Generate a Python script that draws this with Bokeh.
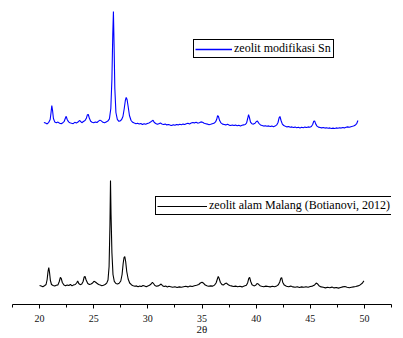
from bokeh.plotting import figure
from bokeh.models import Range1d, FixedTicker, Legend, LegendItem
from bokeh.embed import file_html
from bokeh.resources import INLINE

# ---- data (2-theta in degrees, intensity in arbitrary units, offset traces) ----
black_2theta = [20.00, 20.15, 20.30, 20.45, 20.60, 20.70, 20.78, 20.85, 20.92, 21.00,
                21.10, 21.25, 21.40, 21.55, 21.70, 21.82, 21.92, 22.00, 22.10, 22.25,
                22.40, 22.55, 22.70, 22.85, 23.00, 23.15, 23.30, 23.42, 23.52, 23.62,
                23.75, 23.90, 24.02, 24.12, 24.20, 24.30, 24.45, 24.60, 24.75, 24.90,
                25.02, 25.15, 25.30, 25.45, 25.60, 25.75, 25.90, 26.05, 26.20, 26.32,
                26.42, 26.50, 26.55, 26.60, 26.68, 26.78, 26.90, 27.05, 27.20, 27.35,
                27.50, 27.62, 27.72, 27.80, 27.87, 27.95, 28.05, 28.18, 28.32, 28.50,
                28.65, 28.80, 28.95, 29.10, 29.25, 29.40, 29.55, 29.70, 29.85, 30.00,
                30.15, 30.30, 30.42, 30.52, 30.65, 30.80, 30.95, 31.10, 31.22, 31.35,
                31.50, 31.65, 31.80, 31.95, 32.10, 32.30, 32.50, 32.70, 32.90, 33.10,
                33.30, 33.50, 33.70, 33.90, 34.10, 34.30, 34.50, 34.70, 34.85, 35.00,
                35.15, 35.30, 35.45, 35.60, 35.80, 36.00, 36.15, 36.30, 36.42, 36.50,
                36.58, 36.70, 36.85, 37.00, 37.12, 37.25, 37.40, 37.55, 37.70, 37.90,
                38.10, 38.30, 38.50, 38.70, 38.90, 39.10, 39.22, 39.32, 39.40, 39.50,
                39.62, 39.80, 39.95, 40.08, 40.20, 40.35, 40.50, 40.70, 40.90, 41.10,
                41.30, 41.50, 41.70, 41.90, 42.05, 42.18, 42.28, 42.36, 42.46, 42.60,
                42.80, 43.00, 43.20, 43.40, 43.60, 43.80, 44.00, 44.20, 44.40, 44.60,
                44.80, 45.00, 45.20, 45.40, 45.55, 45.65, 45.80, 46.00, 46.20, 46.40,
                46.60, 46.80, 47.00, 47.20, 47.40, 47.60, 47.80, 48.00, 48.20, 48.40,
                48.60, 48.80, 49.00, 49.20, 49.40, 49.60, 49.80, 49.95]
black_intensity = [190, 185, 178, 188, 200, 250, 330, 370, 320, 240,
                   200, 190, 184, 192, 196, 230, 270, 262, 220, 195,
                   188, 196, 190, 200, 186, 196, 200, 215, 235, 210,
                   198, 205, 230, 275, 280, 245, 210, 200, 206, 215,
                   232, 225, 212, 200, 194, 188, 192, 200, 214, 245,
                   380, 800, 1240, 900, 520, 300, 232, 210, 205, 212,
                   235, 300, 410, 470, 480, 430, 330, 255, 215, 196,
                   188, 182, 186, 178, 184, 180, 190, 184, 178, 186,
                   192, 205, 222, 210, 190, 182, 186, 194, 205, 188,
                   180, 184, 176, 182, 178, 172, 178, 170, 176, 172,
                   178, 182, 176, 184, 180, 188, 192, 200, 215, 222,
                   212, 195, 188, 182, 186, 184, 194, 215, 255, 280,
                   262, 220, 198, 196, 208, 214, 200, 190, 186, 180,
                   184, 178, 182, 176, 184, 192, 218, 262, 272, 230,
                   198, 186, 192, 210, 204, 188, 182, 178, 184, 180,
                   176, 182, 178, 186, 198, 225, 262, 268, 220, 194,
                   182, 178, 184, 176, 172, 178, 170, 176, 172, 178,
                   172, 180, 184, 196, 214, 208, 188, 176, 172, 166,
                   172, 168, 174, 166, 170, 164, 170, 176, 180, 172,
                   168, 172, 176, 180, 186, 196, 212, 236]

blue_2theta = [20.40, 20.55, 20.70, 20.85, 20.98, 21.06, 21.13, 21.20, 21.28, 21.40,
               21.55, 21.70, 21.85, 22.00, 22.15, 22.28, 22.38, 22.46, 22.55, 22.68,
               22.80, 22.95, 23.10, 23.25, 23.40, 23.55, 23.68, 23.78, 23.90, 24.05,
               24.20, 24.32, 24.42, 24.50, 24.60, 24.72, 24.85, 25.00, 25.15, 25.30,
               25.45, 25.58, 25.70, 25.85, 26.00, 26.15, 26.30, 26.45, 26.58, 26.68,
               26.76, 26.82, 26.88, 26.95, 27.05, 27.18, 27.32, 27.45, 27.58, 27.70,
               27.82, 27.92, 28.00, 28.08, 28.18, 28.30, 28.45, 28.60, 28.75, 28.90,
               29.05, 29.20, 29.35, 29.50, 29.65, 29.80, 29.95, 30.10, 30.25, 30.38,
               30.48, 30.58, 30.72, 30.88, 31.02, 31.16, 31.30, 31.45, 31.60, 31.75,
               31.90, 32.05, 32.20, 32.35, 32.50, 32.65, 32.80, 32.95, 33.10, 33.25,
               33.40, 33.55, 33.70, 33.85, 34.00, 34.15, 34.30, 34.45, 34.60, 34.75,
               34.90, 35.05, 35.20, 35.35, 35.50, 35.65, 35.80, 35.95, 36.10, 36.25,
               36.36, 36.44, 36.52, 36.62, 36.75, 36.90, 37.05, 37.20, 37.35, 37.50,
               37.65, 37.80, 37.95, 38.10, 38.25, 38.40, 38.55, 38.70, 38.85, 39.00,
               39.12, 39.22, 39.30, 39.38, 39.48, 39.60, 39.75, 39.90, 40.02, 40.12,
               40.25, 40.40, 40.55, 40.70, 40.85, 41.00, 41.15, 41.30, 41.45, 41.60,
               41.75, 41.90, 42.02, 42.12, 42.20, 42.30, 42.42, 42.55, 42.70, 42.85,
               43.00, 43.15, 43.30, 43.45, 43.60, 43.75, 43.90, 44.05, 44.20, 44.35,
               44.50, 44.65, 44.80, 44.95, 45.10, 45.22, 45.32, 45.40, 45.50, 45.62,
               45.75, 45.90, 46.05, 46.20, 46.35, 46.50, 46.65, 46.80, 46.95, 47.10,
               47.25, 47.40, 47.55, 47.70, 47.85, 48.00, 48.15, 48.30, 48.45, 48.60,
               48.75, 48.90, 49.05, 49.20, 49.30, 49.40]
blue_intensity = [1820, 1814, 1806, 1822, 1850, 1920, 1990, 1940, 1860, 1826,
                  1818, 1824, 1812, 1808, 1818, 1832, 1862, 1882, 1850, 1826,
                  1818, 1812, 1808, 1822, 1816, 1824, 1840, 1832, 1818, 1830,
                  1840, 1862, 1898, 1900, 1862, 1832, 1822, 1818, 1826, 1820,
                  1834, 1844, 1836, 1822, 1818, 1826, 1834, 1856, 1960, 2250,
                  2700, 2930, 2600, 2160, 1920, 1852, 1832, 1836, 1850, 1880,
                  1960, 2040, 2070, 2050, 1980, 1890, 1840, 1822, 1814, 1808,
                  1812, 1804, 1810, 1800, 1808, 1802, 1810, 1816, 1824, 1836,
                  1842, 1822, 1810, 1802, 1808, 1814, 1806, 1800, 1804, 1796,
                  1800, 1794, 1790, 1798, 1792, 1800, 1796, 1802, 1798, 1804,
                  1800, 1808, 1812, 1806, 1814, 1820, 1816, 1822, 1814, 1818,
                  1826, 1822, 1812, 1808, 1804, 1798, 1802, 1808, 1812, 1826,
                  1852, 1888, 1880, 1842, 1816, 1804, 1800, 1796, 1802, 1794,
                  1790, 1796, 1790, 1794, 1788, 1792, 1786, 1792, 1796, 1800,
                  1816, 1860, 1898, 1870, 1824, 1808, 1804, 1812, 1830, 1834,
                  1812, 1796, 1790, 1784, 1788, 1782, 1786, 1780, 1784, 1778,
                  1784, 1796, 1820, 1866, 1880, 1840, 1804, 1790, 1782, 1776,
                  1780, 1772, 1776, 1770, 1774, 1768, 1772, 1766, 1772, 1768,
                  1774, 1770, 1776, 1772, 1780, 1800, 1832, 1836, 1806, 1784,
                  1774, 1770, 1766, 1770, 1764, 1768, 1762, 1766, 1760, 1764,
                  1760, 1766, 1762, 1768, 1764, 1770, 1766, 1772, 1776, 1772,
                  1778, 1782, 1788, 1798, 1812, 1840]

major_ticks = [20, 25, 30, 35, 40, 45, 50]
minor_ticks = [17.5, 22.5, 27.5, 32.5, 37.5, 42.5, 47.5, 52.5]
blue_label = "zeolit modifikasi Sn"
black_label = "zeolit alam Malang (Botianovi, 2012)"
x_label = "2θ"

BLUE = "#0000ff"
BLACK = "#000000"
SERIF = "Liberation Serif"

p = figure(width=403, height=338, output_backend="svg", toolbar_location=None,
           x_range=Range1d(17.5, 52.5), y_range=Range1d(0, 2960),
           y_axis_location=None, x_axis_location="below",
           min_border_left=12, min_border_right=12, min_border_top=8,
           min_border_bottom=34, outline_line_color=None,
           background_fill_color="white", border_fill_color="white")
p.grid.visible = False

r_blue = p.line(blue_2theta, blue_intensity, line_color=BLUE, line_width=1.1)
r_black = p.line(black_2theta, black_intensity, line_color=BLACK, line_width=1.1)

# legend-only proxies (a single NaN point draws nothing on the plot)
nan = float("nan")
key_blue = p.line([nan], [nan], line_color=BLUE, line_width=1.3)
key_black = p.line([nan], [nan], line_color=BLACK, line_width=1.0)

ax = p.xaxis[0]
ax.ticker = FixedTicker(ticks=major_ticks, minor_ticks=minor_ticks)
ax.axis_line_color = "black"
ax.axis_line_width = 1
ax.major_tick_line_color = "black"
ax.minor_tick_line_color = "black"
ax.major_tick_out = 4
ax.major_tick_in = 0
ax.minor_tick_out = 3
ax.minor_tick_in = 0
ax.major_label_text_font = SERIF
ax.major_label_text_font_size = "10px"
ax.major_label_text_color = "#111111"
ax.major_label_standoff = 6
ax.axis_label = x_label
ax.axis_label_text_font = SERIF
ax.axis_label_text_font_size = "11px"
ax.axis_label_text_font_style = "normal"
ax.axis_label_text_color = "#111111"
ax.axis_label_standoff = -2


def make_legend(label, renderer, loc, glyph_w, label_w):
    return Legend(items=[LegendItem(label=label, renderers=[renderer])],
                  location=loc, orientation="vertical",
                  label_text_font=SERIF, label_text_font_size="12px",
                  label_text_color="black",
                  glyph_width=glyph_w, glyph_height=10, label_height=10,
                  label_width=label_w,
                  label_standoff=2, padding=1, spacing=0, margin=0,
                  border_line_color="black", border_line_alpha=1.0,
                  border_line_width=1, background_fill_color="white",
                  background_fill_alpha=1.0)


p.add_layout(make_legend(blue_label, key_blue, (181, 246), 37, 98), "center")
p.add_layout(make_legend(black_label, key_black, (143, 89), 50, 192), "center")

open("out.html", "w").write(file_html(p, INLINE))
